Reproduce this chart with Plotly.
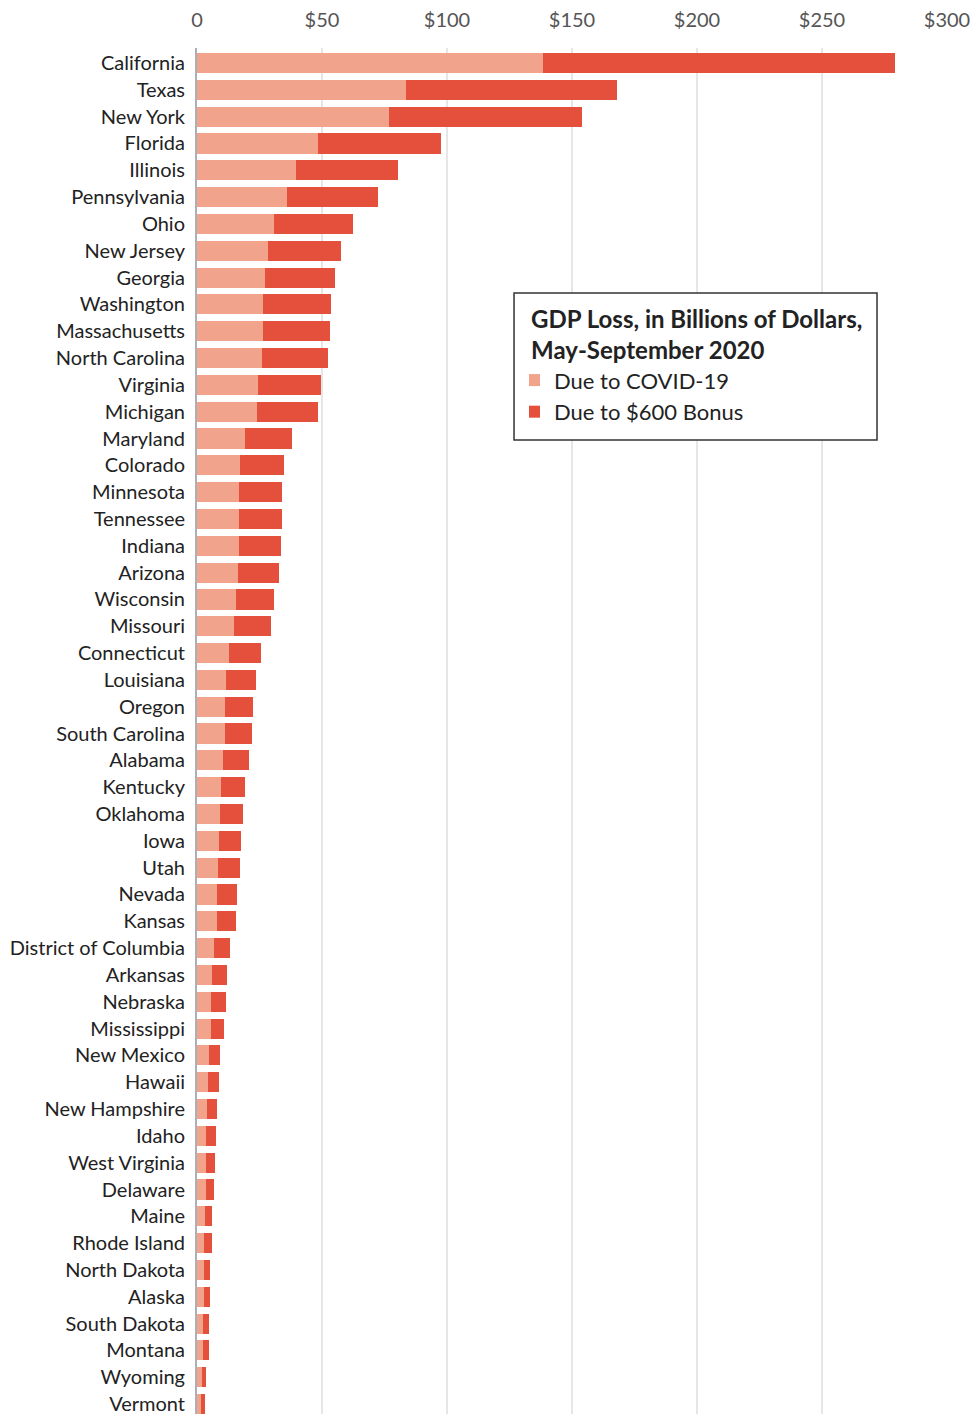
import plotly.graph_objects as go

states = ["California", "Texas", "New York", "Florida", "Illinois", "Pennsylvania", "Ohio",
          "New Jersey", "Georgia", "Washington", "Massachusetts", "North Carolina", "Virginia",
          "Michigan", "Maryland", "Colorado", "Minnesota", "Tennessee", "Indiana", "Arizona",
          "Wisconsin", "Missouri", "Connecticut", "Louisiana", "Oregon", "South Carolina",
          "Alabama", "Kentucky", "Oklahoma", "Iowa", "Utah", "Nevada", "Kansas",
          "District of Columbia", "Arkansas", "Nebraska", "Mississippi", "New Mexico", "Hawaii",
          "New Hampshire", "Idaho", "West Virginia", "Delaware", "Maine", "Rhode Island",
          "North Dakota", "Alaska", "South Dakota", "Montana", "Wyoming", "Vermont"]

covid = [138.5, 83.4, 76.6, 48.5, 39.7, 36.1, 30.9,
         28.4, 27.2, 26.4, 26.4, 26.0, 24.4,
         24.0, 19.2, 17.2, 16.8, 16.8, 16.8, 16.4,
         15.6, 14.8, 12.8, 11.6, 11.2, 11.2,
         10.4, 9.6, 9.2, 8.8, 8.4, 8.0, 8.0,
         6.8, 6.0, 5.6, 5.6, 4.8, 4.4,
         4.0, 3.6, 3.6, 3.6, 3.2, 2.8,
         2.8, 2.8, 2.4, 2.4, 2.0, 1.6]

total = [279.0, 168.0, 154.0, 97.4, 80.2, 72.5, 62.2,
         57.6, 55.2, 53.6, 53.2, 52.4, 49.6,
         48.4, 38.0, 34.8, 34.0, 34.0, 33.6, 32.8,
         30.8, 29.6, 25.6, 23.6, 22.4, 22.0,
         20.8, 19.2, 18.4, 17.6, 17.2, 16.0, 15.6,
         13.2, 12.0, 11.6, 10.8, 9.2, 8.8,
         8.0, 7.6, 7.2, 6.8, 6.0, 6.0,
         5.2, 5.2, 4.8, 4.8, 3.6, 3.2]

bonus = [round(t - c, 2) for t, c in zip(total, covid)]

tick_vals = [0, 50, 100, 150, 200, 250, 300]
tick_text = ["0", "$50", "$100", "$150", "$200", "$250", "$300"]

fig = go.Figure()
fig.add_trace(go.Bar(y=states, x=covid, orientation="h", name="Due to COVID-19",
                     marker=dict(color="#F1A48B", line=dict(width=0))))
fig.add_trace(go.Bar(y=states, x=bonus, orientation="h", name="Due to $600 Bonus",
                     marker=dict(color="#E4503C", line=dict(width=0))))

# legend frame (paper coordinates)
fig.add_shape(type="rect", xref="paper", yref="paper",
              x0=0.4227, x1=0.9067, y0=0.7130, y1=0.8206,
              line=dict(color="#333333", width=1.5), fillcolor="white", layer="above")

fig.update_layout(
    width=974, height=1414,
    margin=dict(l=197, r=27, t=48, b=0),
    barmode="stack",
    bargap=0.25,
    plot_bgcolor="white",
    paper_bgcolor="white",
    font=dict(family="Lato, 'Open Sans', sans-serif", color="#222222", size=20),
    legend=dict(
        x=0.4427, y=0.8178, xanchor="left", yanchor="top",
        borderwidth=0, bgcolor="rgba(0,0,0,0)",
        title=dict(text="<b>GDP Loss, in Billions of Dollars,<br>May-September 2020</b>",
                   font=dict(size=24, color="#222222")),
        font=dict(size=22, color="#222222"),
        traceorder="normal",
        itemwidth=30,
        indentation=-15,
    ),
    showlegend=True,
)

fig.update_xaxes(
    side="top", range=[0, 300], tickvals=tick_vals, ticktext=tick_text,
    showgrid=True, gridcolor="#E6E6E6", gridwidth=2,
    zeroline=False, showline=False,
    tickfont=dict(size=20, color="#555555"),
    ticks="", ticklabelstandoff=16, fixedrange=True,
)
fig.update_yaxes(
    categoryorder="array", categoryarray=states,
    range=[50.37, -0.56],
    showgrid=False, zeroline=False,
    showline=True, linecolor="#AAB0B6", linewidth=2,
    ticks="", ticklabelstandoff=6,
    tickfont=dict(size=20, color="#222222"),
)

fig.write_html("out.html")
